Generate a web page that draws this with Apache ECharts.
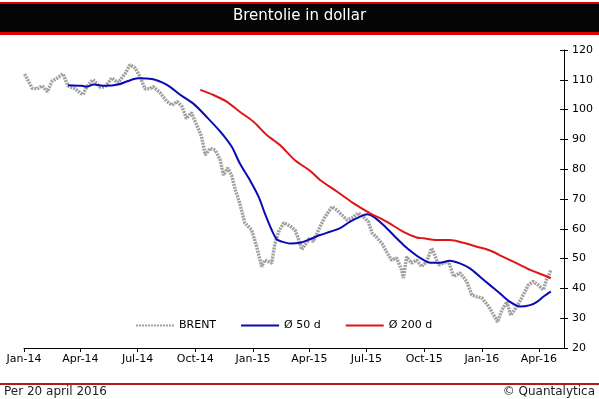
<!DOCTYPE html>
<html>
<head>
<meta charset="utf-8">
<script src="https://cdn.jsdelivr.net/npm/echarts@6/dist/echarts.min.js"></script>
<style>
  html, body { margin: 0; padding: 0; background: #fff; }
  #main { width: 599px; height: 399px; }
</style>
</head>
<body>
<div id="main"></div>
<script>
// Brent daily close
const brentDates = ['2014-01-02','2014-01-14','2014-01-22','2014-01-30','2014-02-07','2014-02-15','2014-02-23','2014-03-04','2014-03-12','2014-03-23',
  '2014-04-05','2014-04-11','2014-04-21','2014-05-02','2014-05-10','2014-05-21','2014-05-31','2014-06-11','2014-06-19','2014-06-27',
  '2014-07-05','2014-07-13','2014-07-21','2014-07-26','2014-08-06','2014-08-17','2014-08-25','2014-09-02','2014-09-10','2014-09-17',
  '2014-09-25','2014-10-03','2014-10-11','2014-10-17','2014-10-25','2014-11-02','2014-11-10','2014-11-15','2014-11-22','2014-11-28',
  '2014-12-04','2014-12-11','2014-12-19','2014-12-30','2015-01-07','2015-01-15','2015-01-20','2015-01-31','2015-02-05','2015-02-11',
  '2015-02-19','2015-03-01','2015-03-09','2015-03-14','2015-03-20','2015-03-25','2015-04-02','2015-04-07','2015-04-18','2015-04-26',
  '2015-05-07','2015-05-15','2015-05-23','2015-05-31','2015-06-08','2015-06-18','2015-06-26','2015-07-04','2015-07-10','2015-07-18',
  '2015-07-26','2015-08-02','2015-08-10','2015-08-18','2015-08-26','2015-08-29','2015-09-03','2015-09-11','2015-09-19','2015-09-27',
  '2015-10-05','2015-10-13','2015-10-19','2015-10-24','2015-11-01','2015-11-09','2015-11-17','2015-11-27','2015-12-08','2015-12-16',
  '2015-12-24','2016-01-01','2016-01-12','2016-01-20','2016-01-26','2016-02-02','2016-02-10','2016-02-16','2016-02-26','2016-03-07',
  '2016-03-15','2016-03-23','2016-03-31','2016-04-08','2016-04-13','2016-04-17','2016-04-20']
const brent = [111.9,107.2,107,108,106,109.6,110.6,112,108,107,
  105,107.6,110,107.6,107.6,110.6,109,112,115,114,
  111,107,107,107.7,105.6,102.7,101.5,102.7,101,97,
  99,95,91,84.8,87,86.4,83,78,80.4,78,
  73,68.6,62,59.6,54,47.3,49.5,48.5,55,59,
  62,61,59.6,57,53,54.6,57,55.7,60.7,64,
  67.4,66.3,64.6,63,63.6,65.3,64,62.4,58.6,57,
  55,52.3,49.5,50.2,46.2,43.5,50.6,48.5,49.5,47.3,
  49,53.5,50.6,47.9,48.5,49,44,45.2,42.3,37.8,
  37.2,36.8,33.9,31,28.8,32.7,35.5,31,33.9,37.8,
  41.1,42.3,41.1,39.5,42.8,44.5,46.2]

// 50 day average
const ma50Dates = ['2014-03-12','2014-04-03','2014-04-11','2014-04-22','2014-05-10','2014-05-31','2014-06-16','2014-07-02','2014-07-24','2014-08-17',
  '2014-09-07','2014-09-28','2014-10-19','2014-11-10','2014-11-28','2014-12-11','2014-12-27','2015-01-10','2015-01-20','2015-01-31',
  '2015-02-08','2015-02-16','2015-03-01','2015-03-17','2015-04-02','2015-04-18','2015-05-04','2015-05-20','2015-06-05','2015-06-21',
  '2015-07-02','2015-07-12','2015-07-28','2015-08-13','2015-08-29','2015-09-14','2015-09-25','2015-10-11','2015-10-26','2015-11-11',
  '2015-11-27','2015-12-13','2015-12-29','2016-01-14','2016-01-30','2016-02-15','2016-03-02','2016-03-18','2016-03-29','2016-04-08',
  '2016-04-20']
const ma50 = [108.2,108,107.7,108.4,108,108.4,109.6,110.5,110.3,108.3,
  105,102,97.6,92.6,87.6,82,76.4,70.8,65.2,59.6,
  56.5,55.7,55.1,55.3,56.5,57.9,59,60.2,62.4,64.1,
  64.9,64.1,61.3,57.9,54.6,51.8,50.2,48.6,48.6,49.3,
  48.4,46.7,43.9,41.1,38.3,35.5,33.9,34.4,35.5,37.2,
  38.9]

// 200 day average
const ma200Dates = ['2014-10-09','2014-10-30','2014-11-20','2014-12-11','2015-01-02','2015-01-23','2015-02-13','2015-03-09','2015-04-02','2015-04-18',
  '2015-05-15','2015-06-10','2015-07-07','2015-08-02','2015-08-29','2015-09-19','2015-09-30','2015-10-21','2015-11-11','2015-12-03',
  '2015-12-24','2016-01-14','2016-02-04','2016-02-26','2016-03-18','2016-04-08','2016-04-20']
const ma200 = [106.6,104.9,102.7,99.3,95.9,91.5,88.1,83,79.5,76.4,
  72.5,68.6,65.2,62.4,59,57.1,56.8,56.2,56.2,55.3,
  54,52.7,50.6,48.4,46.2,44.5,43.4]

const tickDates = ['2014-01-01','2014-04-01','2014-07-01','2014-10-01','2015-01-01','2015-04-01','2015-07-01','2015-10-01','2016-01-01','2016-04-01']
const tickLabels = ['Jan-14','Apr-14','Jul-14','Oct-14','Jan-15','Apr-15','Jul-15','Oct-15','Jan-16','Apr-16']

// x is counted in days from 1 Jan 2014
const dayNo = s => {
  const [y, m, d] = s.split('-').map(Number)
  return Math.round((Date.UTC(y, m - 1, d) - Date.UTC(2014, 0, 1)) / 86400000)
}
const pairs = (dates, vals) => dates.map((d, i) => [dayNo(d), vals[i]])
const ticks = tickDates.map(dayNo)

const font = 'DejaVu Sans'

const chart = echarts.init(document.getElementById('main'))

chart.setOption({
  animation: false,
  backgroundColor: '#fff',
  grid: { left: 24, right: 35, top: 50, bottom: 51 },
  legend: {
    left: 130, top: 315,
    itemWidth: 38, itemHeight: 10, itemGap: 24,
    itemStyle: { opacity: 0 },
    textStyle: { fontFamily: font, fontSize: 11, color: '#000' },
    data: ['BRENT', 'Ø 50 d', 'Ø 200 d']
  },
  xAxis: {
    type: 'value',
    min: 0,
    max: dayNo('2016-05-11'),
    axisLine: { onZero: false, lineStyle: { color: '#000', width: 1 } },
    axisTick: { show: true, length: 4, lineStyle: { color: '#000' }, customValues: ticks },
    axisLabel: {
      customValues: ticks,
      margin: 6,
      fontFamily: font, fontSize: 11, color: '#000',
      formatter: v => tickLabels[ticks.indexOf(v)]
    },
    splitLine: { show: false }
  },
  yAxis: [
    {
      type: 'value', position: 'right', min: 20, max: 120, interval: 10,
      axisLine: { show: true, onZero: false, lineStyle: { color: '#000' } },
      axisTick: { show: true, length: 4, lineStyle: { color: '#000' } },
      axisLabel: { margin: 8, fontFamily: font, fontSize: 11, color: '#000' },
      splitLine: { show: false }
    },
    {
      type: 'value', position: 'right', offset: 0, min: 20, max: 120, interval: 10,
      axisLine: { show: false, onZero: false },
      axisTick: { show: true, inside: true, length: 4, lineStyle: { color: '#000' } },
      axisLabel: { show: false },
      splitLine: { show: false }
    }
  ],
  series: [
    {
      name: 'BRENT', type: 'line', symbol: 'none',
      data: pairs(brentDates, brent),
      lineStyle: { color: '#a0a0a0', width: 3.5, type: [2, 1] },
      itemStyle: { color: '#a0a0a0' }
    },
    {
      name: 'Ø 50 d', type: 'line', symbol: 'none', smooth: 0.3,
      data: pairs(ma50Dates, ma50),
      lineStyle: { color: '#0a0ab4', width: 2 },
      itemStyle: { color: '#0a0ab4' }
    },
    {
      name: 'Ø 200 d', type: 'line', symbol: 'none', smooth: 0.3,
      data: pairs(ma200Dates, ma200),
      lineStyle: { color: '#e01414', width: 2 },
      itemStyle: { color: '#e01414' }
    }
  ],
  graphic: [
    // title bar
    { type: 'rect', shape: { x: 0, y: 2, width: 599, height: 33 }, style: { fill: '#e00000' }, silent: true },
    { type: 'rect', shape: { x: 0, y: 4, width: 599, height: 28 }, style: { fill: '#050505' }, silent: true },
    { type: 'text', left: 'center', top: 9, style: { text: 'Brentolie in dollar', fill: '#fff', font: '15px "DejaVu Sans"' } },
    // footer
    { type: 'rect', shape: { x: 0, y: 383, width: 599, height: 2 }, style: { fill: '#b01c1c' }, silent: true },
    { type: 'text', left: 4, top: 386, style: { text: 'Per 20 april 2016', fill: '#222', font: '12px "DejaVu Sans"' } },
    { type: 'text', right: 4, top: 386, style: { text: '© Quantalytica', fill: '#222', font: '12px "DejaVu Sans"' } }
  ]
})
</script>
</body>
</html>
